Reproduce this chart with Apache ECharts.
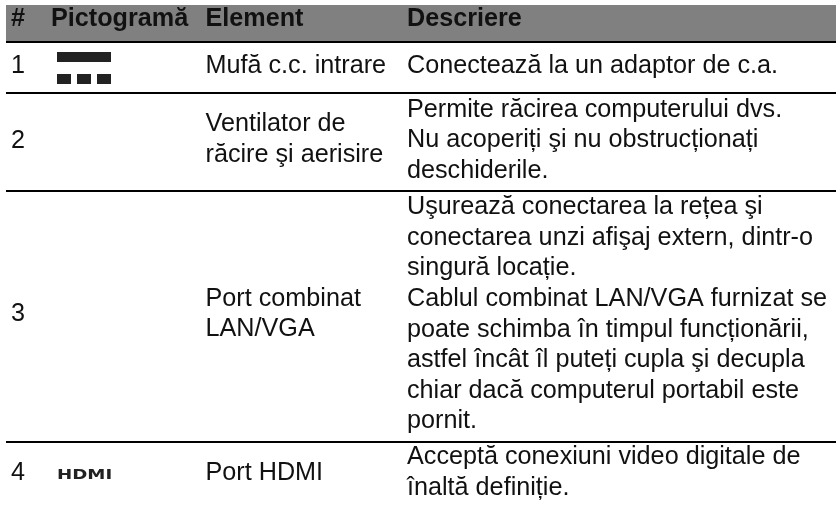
<!DOCTYPE html>
<html>
<head>
<meta charset="utf-8">
<style>
  html, body { margin: 0; padding: 0; background: #fff; }
  #main { width: 836px; height: 506px; }
</style>
<script src="https://cdn.jsdelivr.net/npm/echarts@6/dist/echarts.min.js"></script>
</head>
<body>
<div id="main"></div>
<script>
// table content
var headers = ['#', 'Pictogramă', 'Element', 'Descriere'];
var rowNumbers = ['1', '2', '3', '4'];
var elementLines = [
  ['Mufă c.c. intrare'],
  ['Ventilator de', 'răcire şi aerisire'],
  ['Port combinat', 'LAN/VGA'],
  ['Port HDMI']
];
var descriptionLines = [
  ['Conectează la un adaptor de c.a.'],
  ['Permite răcirea computerului dvs.', 'Nu acoperiți şi nu obstrucționați', 'deschiderile.'],
  ['Uşurează conectarea la rețea şi', 'conectarea unzi afişaj extern, dintr-o', 'singură locație.',
   'Cablul combinat LAN/VGA furnizat se', 'poate schimba în timpul funcționării,', 'astfel încât îl puteți cupla şi decupla',
   'chiar dacă computerul portabil este', 'pornit.'],
  ['Acceptă conexiuni video digitale de', 'înaltă definiție.']
];

// layout
var font = '25.2px "Liberation Sans", Arial, sans-serif';
var boldFont = 'bold 25.2px "Liberation Sans", Arial, sans-serif';
var headerX = [11, 51, 205.5, 407];
var cellX = [11, 205.5, 407];
var lineH = 30.6;
var ruleY = [42, 93, 191, 442];
// first line position of each row: number, element, description
var numberBase = [74.5, 150, 322.7, 481.5];
var elementBase = [74.5, 133.3, 307.7, 481.5];
var descBase = [74.5, 118.5, 216, 466];

var elements = [];

elements.push({ type: 'rect', shape: { x: 6, y: 5, width: 830, height: 36 }, style: { fill: '#808080' } });
ruleY.forEach(function (y) {
  elements.push({ type: 'rect', shape: { x: 6, y: y - 1, width: 830, height: 2 }, style: { fill: '#000' } });
});

function addText(str, x, base, f) {
  elements.push({
    type: 'text', x: x, y: base - 8.8,
    style: { text: str, font: f || font, fill: '#111', textAlign: 'left', verticalAlign: 'middle' }
  });
}

headers.forEach(function (h, i) {
  addText(h, headerX[i], 28, boldFont);
});

function addBlock(lines, x, base) {
  lines.forEach(function (line, i) {
    addText(line, x, base + i * lineH);
  });
}

rowNumbers.forEach(function (n, r) {
  addText(n, cellX[0], numberBase[r]);
  addBlock(elementLines[r], cellX[1], elementBase[r]);
  addBlock(descriptionLines[r], cellX[2], descBase[r]);
});

// DC power pictogram
[[57, 52, 54, 10], [57, 74, 14, 10], [77, 74, 14, 10], [97, 74, 14, 10]].forEach(function (b) {
  elements.push({ type: 'rect', shape: { x: b[0], y: b[1], width: b[2], height: b[3] }, style: { fill: '#222' } });
});
// HDMI pictogram
elements.push({
  type: 'text', x: 57, y: 475.5, scaleX: 1.3, scaleY: 1,
  style: { text: 'HDMI', font: 'bold 14px "DejaVu Sans", sans-serif', fill: '#222', textAlign: 'left', verticalAlign: 'middle' }
});

var chart = echarts.init(document.getElementById('main'));
chart.setOption({
  backgroundColor: '#fff',
  animation: false,
  graphic: { elements: elements }
});
</script>
</body>
</html>
